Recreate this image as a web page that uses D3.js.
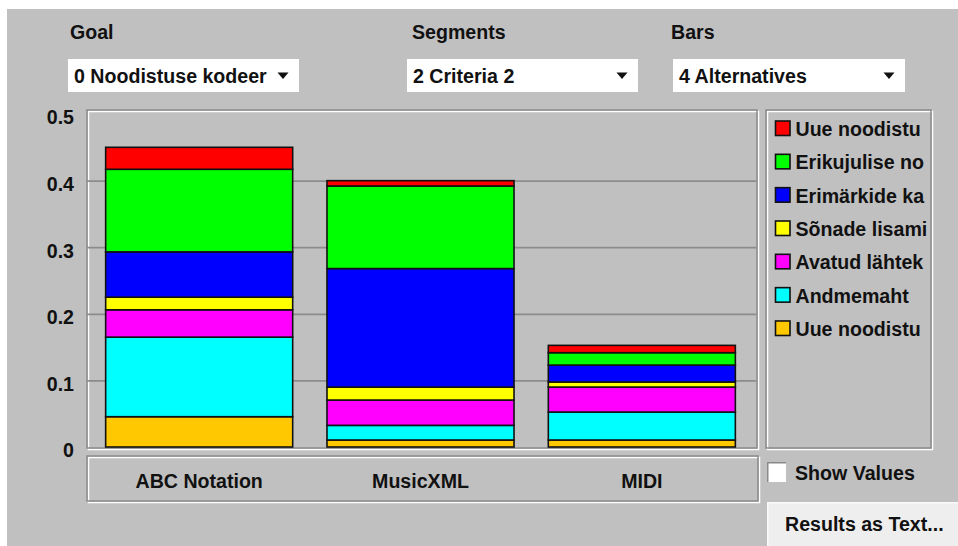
<!DOCTYPE html>
<html>
<head>
<meta charset="utf-8">
<script src="https://cdn.jsdelivr.net/npm/d3@7"></script>
<style>
  html, body { margin: 0; padding: 0; background: #ffffff; }
  svg { display: block; }
  text { font-family: "Liberation Sans", Arial, sans-serif; font-weight: bold; fill: #111; }
</style>
</head>
<body>
<script>
// Alternatives shown as bars
const categories = ["ABC Notation", "MusicXML", "MIDI"];

// Criteria segments, stacked from the bottom up
const seriesNames = ["Uue noodistu", "Andmemaht", "Avatud lähtek", "Sõnade lisami", "Erimärkide ka", "Erikujulise no", "Uue noodistu"];
const seriesColors = ["#ffc800", "#00ffff", "#ff00ff", "#ffff00", "#0000ff", "#00ff00", "#ff0000"];
const orangeValues  = [0.0455, 0.0105, 0.0105];
const cyanValues    = [0.1195, 0.0220, 0.0420];
const magentaValues = [0.0410, 0.0380, 0.0375];
const yellowValues  = [0.0190, 0.0194, 0.0076];
const blueValues    = [0.0680, 0.1780, 0.0254];
const greenValues   = [0.1240, 0.1240, 0.0186];
const redValues     = [0.0330, 0.0080, 0.0110];
const seriesValues = [orangeValues, cyanValues, magentaValues, yellowValues, blueValues, greenValues, redValues];

const yTicks = [0, 0.1, 0.2, 0.3, 0.4, 0.5];
const gridTicks = [0.1, 0.2, 0.3, 0.4];

// Selector panel texts
const selectorLabels = ["Goal", "Segments", "Bars"];
const selectorValues = ["0 Noodistuse kodeer", "2 Criteria 2", "4 Alternatives"];

const W = 958, H = 546;
const FS = 19.6;
const svg = d3.select("body").append("svg").attr("width", W).attr("height", H);

// window background
svg.append("rect").attr("x", 7).attr("y", 9).attr("width", W - 7).attr("height", H - 9).attr("fill", "#c0c0c0");

const SHADOW = "#8a8a8a", LIGHT = "#ffffff";
function etched(x, y, w, h) {
  const g = svg.append("g").attr("fill", "none").attr("stroke-width", 1.5);
  g.append("rect").attr("x", x + 1.5).attr("y", y + 1.5).attr("width", w - 2).attr("height", h - 2).attr("stroke", LIGHT);
  g.append("rect").attr("x", x).attr("y", y).attr("width", w - 2).attr("height", h - 2).attr("stroke", SHADOW);
}

// selectors
const selX = [68, 407, 673], selW = [231, 231, 232], labX = [70, 412, 671];
selectorLabels.forEach((lab, i) => {
  svg.append("text").attr("x", labX[i]).attr("y", 39).attr("font-size", FS).text(lab);
  svg.append("rect").attr("x", selX[i]).attr("y", 59).attr("width", selW[i]).attr("height", 33).attr("fill", "#ffffff");
  svg.append("text").attr("x", selX[i] + 6).attr("y", 83).attr("font-size", FS).text(selectorValues[i]);
  const ax = selX[i] + selW[i] - 16;
  svg.append("path").attr("d", `M${ax - 5.5},72.5 L${ax + 5.5},72.5 L${ax},79 Z`).attr("fill", "#111");
});

// plot area
const plotL = 87, plotT = 110, plotR = 759, plotB = 450;
etched(plotL, plotT, plotR - plotL, plotB - plotT);

const x = d3.scaleBand().domain(categories).range([88.5, 752.5]).paddingInner(0.155).paddingOuter(0.0775);
const y = d3.scaleLinear().domain([0, 0.5]).range([447, 114]);

// horizontal grid
svg.append("g")
  .attr("transform", `translate(${plotL},0)`)
  .call(d3.axisLeft(y).tickValues(gridTicks).tickSize(-(plotR - plotL - 3)).tickFormat(""))
  .call(g => g.select(".domain").remove())
  .call(g => g.selectAll(".tick line").attr("stroke", "#8c8c8c").attr("stroke-width", 1.8));

// y axis labels
svg.append("g")
  .attr("transform", `translate(${plotL},0)`)
  .call(d3.axisLeft(y).tickValues(yTicks).tickSize(0).tickPadding(13)
    .tickFormat(d => d === 0 ? "0" : d3.format(".1f")(d)))
  .call(g => g.select(".domain").remove())
  .call(g => g.selectAll("text").attr("font-size", FS).attr("font-family", "'Liberation Sans', Arial, sans-serif")
    .attr("font-weight", "bold").attr("fill", "#111").attr("dy", "0.5em"));

// stacked bars
const rows = categories.map((c, ci) => {
  const r = { cat: c };
  seriesValues.forEach((vals, si) => { r["s" + si] = vals[ci]; });
  return r;
});
const keys = seriesValues.map((_, si) => "s" + si);
const stacked = d3.stack().keys(keys)(rows);

svg.append("g").selectAll("g")
  .data(stacked)
  .join("g")
  .attr("fill", (d, i) => seriesColors[i])
  .selectAll("rect")
  .data(d => d)
  .join("rect")
  .attr("x", d => x(d.data.cat))
  .attr("y", d => y(d[1]))
  .attr("width", x.bandwidth())
  .attr("height", d => y(d[0]) - y(d[1]))
  .attr("stroke", "#111")
  .attr("stroke-width", 1.6);

// category axis panel
etched(87, 456, 673, 47);
svg.append("g")
  .attr("transform", "translate(0,474)")
  .call(d3.axisBottom(x).tickSize(0).tickPadding(0))
  .call(g => g.select(".domain").remove())
  .call(g => g.selectAll("text").attr("font-size", FS).attr("font-family", "'Liberation Sans', Arial, sans-serif")
    .attr("font-weight", "bold").attr("fill", "#111").attr("dy", "0.71em"));

// legend
etched(766, 110, 167, 340);
const legendOrder = d3.range(seriesNames.length).reverse();
const lg = svg.append("g");
legendOrder.forEach((si, row) => {
  const cy = 128.5 + row * 33.33;
  lg.append("rect").attr("x", 775.5).attr("y", cy - 7.5).attr("width", 14.5).attr("height", 14.5)
    .attr("fill", seriesColors[si]).attr("stroke", "#111").attr("stroke-width", 1.6);
  lg.append("text").attr("x", 795.5).attr("y", cy + 7.5).attr("font-size", FS).text(seriesNames[si]);
});

// show-values checkbox
svg.append("rect").attr("x", 767).attr("y", 462).attr("width", 19).attr("height", 20).attr("fill", "#ffffff");
svg.append("path").attr("d", "M767.75,482 L767.75,462.75 L786,462.75").attr("fill", "none").attr("stroke", "#8a8a8a").attr("stroke-width", 1.5);
svg.append("text").attr("x", 795).attr("y", 480).attr("font-size", FS).text("Show Values");

// results button
svg.append("rect").attr("x", 767).attr("y", 502).attr("width", 200).attr("height", 60).attr("fill", "#eeeeee");
svg.append("path").attr("d", "M767.75,546 L767.75,502.75 L958,502.75").attr("fill", "none").attr("stroke", "#fafafa").attr("stroke-width", 1.5);
svg.append("text").attr("x", 785).attr("y", 530.5).attr("font-size", FS).text("Results as Text...");
</script>
</body>
</html>
